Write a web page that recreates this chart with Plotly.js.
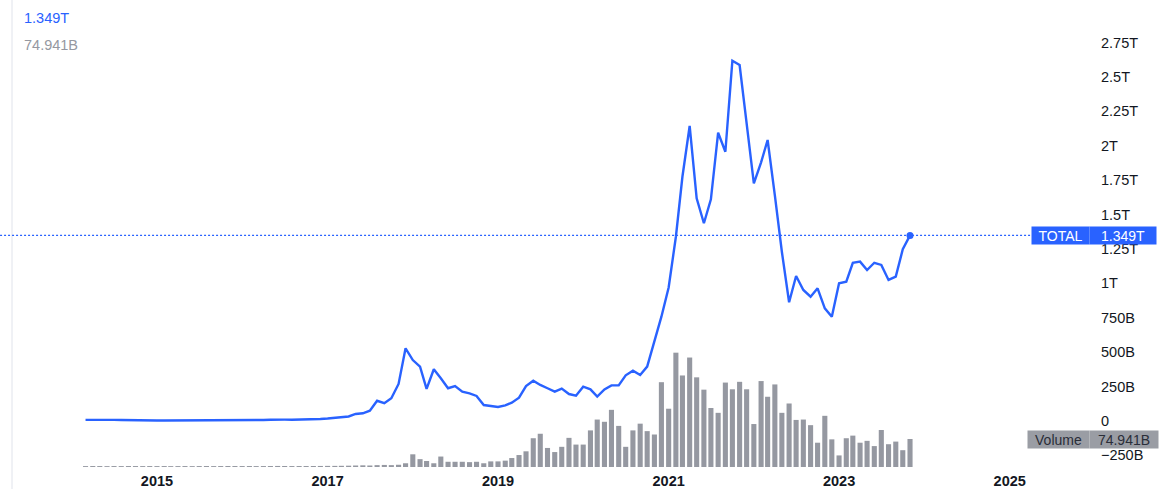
<!DOCTYPE html>
<html>
<head>
<meta charset="utf-8">
<script src="https://cdn.plot.ly/plotly-3.0.1.min.js"></script>
<style>
html,body{margin:0;padding:0;background:#fff;}
#chart{width:1161px;height:489px;}
</style>
</head>
<body>
<div id="chart"></div>
<script>
// Monthly series, first month 2014-03, last month 2023-11
const startYear = 2014, startMonth = 3;

// Total crypto market cap, billions USD (monthly)
const totalCap = [
  8.5, 9.5, 9.0, 9.2, 8.5, 7.5, 5.9, 5.6, 6.0, 5.0,
  3.5, 3.9, 3.8, 3.6, 3.7, 4.1, 4.4, 3.8, 3.9, 5.0, 5.8, 6.9,
  6.8, 7.4, 7.0, 7.6, 8.9, 11.0, 10.0, 9.5, 10.0, 11.0, 12.5, 14.5,
  18, 22, 25, 33, 51, 56, 75, 147, 129, 165, 269, 528,
  443, 395, 233, 376, 310, 238, 254, 213, 201, 182, 116, 111,
  102, 114, 133, 169, 254, 293, 262, 238, 213, 235, 196, 184,
  249, 230, 177, 230, 259, 259, 332, 366, 334, 395, 580, 758,
  970, 1339, 1775, 2144, 1618, 1437, 1611, 2095, 1957, 2618, 2587, 2160,
  1727, 1880, 2042, 1640, 1230, 863, 1054, 952, 903, 964, 819, 758,
  1001, 1012, 1150, 1158, 1097, 1150, 1134, 1025, 1049, 1248, 1349
];

// Volume, billions USD (monthly)
const volume = [
  2.4, 2.6, 2.5, 2.3, 2.5, 2.4, 2.6, 2.5, 2.4, 2.5,
  2.4, 2.5, 2.3, 2.4, 2.5, 2.3, 2.5, 2.6, 2.4, 2.5, 2.7, 2.6,
  2.5, 2.6, 2.4, 2.5, 2.6, 2.8, 2.7, 2.5, 2.6, 2.6, 2.7, 2.8,
  3.0, 3.0, 3.2, 3.5, 4.0, 4.5, 4.0, 5.0, 5.5, 5.0, 6.0, 10,
  34, 21, 16, 10, 28, 14, 14, 14, 13, 14, 10, 15,
  15, 17, 24, 32, 42, 77, 89, 51, 40, 54, 78, 60,
  60, 98, 127, 121, 153, 110, 54, 98, 116, 96, 87, 227,
  156, 306, 245, 293, 240, 207, 158, 145, 226, 208, 228, 208,
  115, 230, 188, 221, 145, 170, 126, 127, 112, 65, 137, 74,
  31, 77, 84, 65, 70, 56, 99, 61, 68, 45, 74.941
];

const yTickVals = [2750, 2500, 2250, 2000, 1750, 1500, 1250, 1000, 750, 500, 250, 0, -250];
const yTickText = ['2.75T', '2.5T', '2.25T', '2T', '1.75T', '1.5T', '1.25T', '1T', '750B', '500B', '250B', '0', '\u2212250B'];
const xTickVals = ['2015-01-01', '2017-01-01', '2019-01-01', '2021-01-01', '2023-01-01', '2025-01-01'];
const xTickText = ['2015', '2017', '2019', '2021', '2023', '2025'];

const lastTotalLabel = '1.349T';
const lastVolumeLabel = '74.941B';

// month dates
const months = totalCap.map((_, i) => {
  const m0 = startMonth - 1 + i;
  const y = startYear + Math.floor(m0 / 12);
  const m = (m0 % 12) + 1;
  return y + '-' + String(m).padStart(2, '0') + '-01';
});

const BLUE = '#2962ff';
const GRAY = '#9598a1';
const B = 1e9;

const L = 12, R = 64, T = 0, Bm = 21;
const W = 1161, H = 489;
const plotW = W - L - R;
const px2paper = p => (p - L) / plotW;

const traces = [
  {
    type: 'bar', x: months, y: volume.map(v => v * B), yaxis: 'y2',
    marker: {color: GRAY, line: {width: 0}}, hoverinfo: 'skip'
  },
  {
    type: 'scatter', mode: 'lines', x: months, y: totalCap.map(v => v * B),
    line: {color: BLUE, width: 2.4}, hoverinfo: 'skip'
  },
  {
    type: 'scatter', mode: 'markers',
    x: [months[months.length - 1]], y: [totalCap[totalCap.length - 1] * B],
    marker: {color: BLUE, size: 7}, hoverinfo: 'skip'
  }
];

const lastTotal = totalCap[totalCap.length - 1] * B;
const lastVol = volume[volume.length - 1] * B;

const layout = {
  width: W, height: H,
  margin: {l: L, r: R, t: T, b: Bm, pad: 0},
  paper_bgcolor: '#ffffff', plot_bgcolor: '#ffffff',
  showlegend: false,
  bargap: 0.22,
  font: {family: 'Liberation Sans, Arial, sans-serif', color: '#131722'},
  xaxis: {
    type: 'date',
    range: ['2013-04-20', '2026-01-10'],
    tickvals: xTickVals, ticktext: xTickText,
    showgrid: false, zeroline: false, showline: false, ticks: '',
    tickfont: {size: 14.5, color: '#131722', weight: 'bold', family: 'Liberation Sans, Arial, sans-serif'},
    ticklabelstandoff: 2,
    fixedrange: true
  },
  yaxis: {
    side: 'right',
    range: [-0.3416e12, 3.0596e12],
    tickvals: yTickVals.map(v => v * B), ticktext: yTickText,
    showgrid: false, zeroline: false, showline: false, ticks: '',
    tickfont: {size: 14.5, color: '#131722'},
    ticklabelstandoff: 3,
    fixedrange: true
  },
  yaxis2: {
    overlaying: 'y', side: 'right',
    range: [-2.68e9, 1250e9],
    showticklabels: false, showgrid: false, zeroline: false, showline: false, ticks: '',
    fixedrange: true
  },
  shapes: [
    {type: 'line', xref: 'paper', yref: 'paper', x0: 0, x1: 0, y0: -0.05, y1: 1,
     line: {color: '#e0e3eb', width: 1}},
    {type: 'line', xref: 'paper', yref: 'y', x0: -0.011, x1: px2paper(1032), y0: lastTotal, y1: lastTotal,
     line: {color: BLUE, width: 1.2, dash: '2px,2px'}}
  ],
  annotations: [
    {xref: 'paper', yref: 'paper', x: px2paper(22), y: 1 - (18 - T) / (H - T - Bm), xanchor: 'left', yanchor: 'middle',
     text: lastTotalLabel, showarrow: false, font: {size: 14.5, color: BLUE}},
    {xref: 'paper', yref: 'paper', x: px2paper(22), y: 1 - (45 - T) / (H - T - Bm), xanchor: 'left', yanchor: 'middle',
     text: lastVolumeLabel, showarrow: false, font: {size: 14.5, color: GRAY}},
    {xref: 'paper', yref: 'y', x: px2paper(1031), y: lastTotal, xanchor: 'left', yanchor: 'middle',
     text: 'TOTAL', showarrow: false, bgcolor: BLUE, width: 57, height: 17, borderpad: 0, align: 'center',
     font: {size: 14, color: '#ffffff'}},
    {xref: 'paper', yref: 'y', x: px2paper(1089), y: lastTotal, xanchor: 'left', yanchor: 'middle',
     text: lastTotalLabel, showarrow: false, bgcolor: BLUE, width: 66, height: 17, borderpad: 0, align: 'center',
     font: {size: 14, color: '#ffffff'}},
    {xref: 'paper', yref: 'y2', x: px2paper(1027), y: lastVol, xanchor: 'left', yanchor: 'middle',
     text: 'Volume', showarrow: false, bgcolor: '#9a9da4', width: 61, height: 17, borderpad: 0, align: 'center',
     font: {size: 14, color: '#2a2e39'}},
    {xref: 'paper', yref: 'y2', x: px2paper(1089), y: lastVol, xanchor: 'left', yanchor: 'middle',
     text: lastVolumeLabel, showarrow: false, bgcolor: '#9a9da4', width: 68, height: 17, borderpad: 0, align: 'center',
     font: {size: 14, color: '#2a2e39'}}
  ]
};

Plotly.newPlot('chart', traces, layout, {staticPlot: true, displayModeBar: false});
</script>
</body>
</html>
